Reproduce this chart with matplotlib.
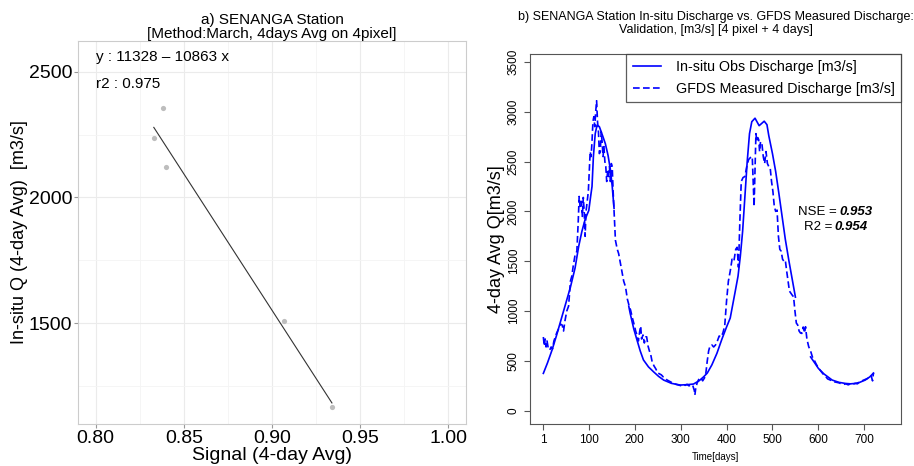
import numpy as np
import matplotlib

matplotlib.use("Agg")
import matplotlib.pyplot as plt
from matplotlib.ticker import MultipleLocator

plt.rcParams["font.family"] = ["Liberation Sans", "DejaVu Sans"]

# ---------- panel a) regression data ----------
signal = [0.838, 0.833, 0.840, 0.907, 0.934]
q_insitu = [2355, 2237, 2121, 1508, 1165]
intercept, slope = 11328, -10863
fit_label = "y : 11328 \u2013 10863 x"
r2_label = "r2 : 0.975"
sig_ticks = [0.80, 0.85, 0.90, 0.95, 1.00]
q_ticks = [1500, 2000, 2500]

# ---------- panel b) time series ----------
obs_days = [1, 10, 20, 30, 40, 50, 60, 70, 78, 85, 92, 100, 104, 107, 110, 114, 118, 123,
            130, 136, 142, 147, 151, 155, 156,
            187, 190, 198, 205, 212, 219, 230, 241, 252, 263, 280, 299, 315, 328, 340, 350,
            358, 368, 379, 390, 400, 408, 419, 425, 430, 435, 440, 445, 450, 455, 462, 471,
            482, 488, 492, 500, 507, 514, 521, 528, 536, 543, 550, 551,
            583, 592, 600, 612, 630, 645, 659, 670, 680, 690, 702, 712, 720]
obs_q = [375, 480, 610, 760, 920, 1080, 1240, 1430, 1650, 1800, 1920, 2010, 2150, 2250, 2550,
         2780, 2866, 2850, 2760, 2680, 2560, 2420, 2250, 2030, np.nan,
         1050, 980, 820, 709, 600, 510, 440, 391, 345, 308, 275, 258, 262, 268, 300, 340,
         378, 460, 576, 720, 840, 930, 1200, 1350, 1550, 1800, 2150, 2500, 2780, 2900, 2935,
         2860, 2905, 2870, 2760, 2580, 2400, 2180, 1950, 1720, 1500, 1320, 1140, np.nan,
         540, 480, 425, 370, 308, 285, 274, 270, 274, 285, 308, 340, 378]

gfds_days = [1, 3, 5, 7, 9, 12, 15, 18, 21, 24, 27, 30, 34, 38, 42, 45, 48, 52, 56, 60, 63,
             66, 70, 74, 77, 79, 81, 84, 86, 88, 90, 92, 94, 96, 99, 101, 103, 105, 107, 109,
             111, 113, 115, 117, 119, 121, 123, 125, 127, 129, 131, 133, 135, 137, 139, 141,
             143, 145, 147, 149, 151, 153, 155, 158, 162, 165, 168, 172, 176, 180, 184, 188,
             191, 195, 199, 202, 205, 208, 211, 213, 215, 218, 221, 224, 226, 229, 232, 235,
             238, 242, 246, 250, 254, 258, 262, 266, 270, 274, 278, 282, 286, 290, 294, 298,
             302, 306, 310, 314, 318, 322, 326, 330, 331, 333, 336, 340, 344, 348, 352, 355,
             358, 361, 364, 368, 372, 376, 380, 384, 388, 392, 396, 400, 404, 408, 412, 416,
             420, 423, 426, 429, 432, 436, 440, 444, 448, 452, 456, 458, 460, 462, 464, 466,
             468, 470, 472, 474, 477, 480, 483, 486, 489, 492, 495, 498, 501, 504, 507, 510,
             513, 516, 519, 522, 525, 528, 531, 534, 537, 540, 543, 546, 549, 552, 555, 558,
             561, 564, 567, 570, 572, 575, 579, 583, 587, 591, 595, 600, 605, 610, 615, 620,
             625, 630, 635, 640, 645, 650, 655, 660, 665, 670, 675, 680, 685, 690, 695, 700,
             705, 710, 715, 718, 720]
gfds_q = [740, 650, 720, 640, 700, 620, 610, 640, 620, 700, 740, 780, 820, 870, 860, 800,
          900, 1000, 1050, 1300, 1350, 1450, 1560, 1600, 1900, 2150, 2050, 2100, 1950, 2140,
          2000, 1750, 2000, 2080, 2200, 2400, 2600, 2550, 2700, 2900, 2950, 2850, 3000, 3110,
          2900, 2800, 2580, 2600, 2800, 2700, 2550, 2650, 2500, 2450, 2300, 2400, 2350, 2450,
          2300, 2480, 2450, 2200, 2000, 1710, 1620, 1577, 1500, 1400, 1300, 1243, 1120, 1050,
          1010, 930, 860, 800, 760, 700, 800, 850, 720, 760, 680, 740, 742, 650, 600, 560,
          490, 450, 420, 380, 370, 360, 340, 330, 310, 300, 290, 280, 270, 265, 260, 255,
          250, 260, 255, 265, 250, 255, 260, 200, 157, 230, 280, 320, 330, 300, 330, 380,
          500, 600, 650, 660, 640, 660, 700, 750, 740, 780, 850, 1100, 1300, 1400, 1520, 1500,
          1620, 1640, 1440, 1900, 2300, 2340, 2350, 2450, 2520, 2540, 2550, 2300, 2050, 2400,
          2780, 2700, 2740, 2720, 2600, 2700, 2680, 2550, 2480, 2600, 2480, 2450, 2440, 2300,
          2200, 2050, 2000, 2013, 1750, 1620, 1600, 1520, 1500, 1510, 1400, 1300, 1200, 1180,
          1160, 1143, 1000, 880, 860, 800, 780, 776, 840, 780, 843, 720, 642, 600, 540, 508,
          470, 430, 400, 370, 350, 320, 310, 300, 290, 285, 280, 270, 265, 270, 260, 270,
          265, 275, 270, 290, 300, 310, 320, 330, 350, 300, 380]

x_ticks = [1, 100, 200, 300, 400, 500, 600, 700]
y_ticks = [0, 500, 1000, 1500, 2000, 2500, 3000, 3500]

fig = plt.figure(figsize=(9.14, 4.66), dpi=100, facecolor="white")

# ---------- a) scatter + fit (ggplot look) ----------
ax1 = fig.add_axes([0.0853, 0.0901, 0.4245, 0.8219])
ax1.set_xlim(0.790, 1.010)
ax1.set_ylim(1098, 2623)
ax1.set_xticks(sig_ticks)
ax1.set_xticklabels([f"{v:.2f}" for v in sig_ticks])
ax1.set_yticks(q_ticks)
ax1.xaxis.set_minor_locator(MultipleLocator(0.025))
ax1.yaxis.set_minor_locator(MultipleLocator(250))
ax1.grid(which="major", color="#ebebeb", lw=0.8)
ax1.grid(which="minor", color="#f4f4f4", lw=0.6)
ax1.set_axisbelow(True)
for sp in ax1.spines.values():
    sp.set_color("#cccccc")
ax1.tick_params(which="major", length=3, color="#999999", labelsize=14, pad=1)
ax1.tick_params(which="minor", length=0)

xf = np.array([min(signal), max(signal)])
ax1.plot(xf, intercept + slope * xf, color="#333333", lw=0.8, zorder=3)
ax1.scatter(signal, q_insitu, s=14, color="#bdbdbd", zorder=4, linewidths=0)
ax1.text(0.80, 2560, fit_label, fontsize=11, va="center", ha="left")
ax1.text(0.80, 2452, r2_label, fontsize=11, va="center", ha="left")
ax1.set_xlabel("Signal (4-day Avg)", fontsize=14, labelpad=0)
ax1.set_ylabel("In-situ Q (4-day Avg)  [m3/s]", fontsize=13, labelpad=1)
ax1.set_title("a) SENANGA Station\n[Method:March, 4days Avg on 4pixel]", fontsize=11,
              linespacing=1.0, pad=2)

# ---------- b) time series (base-R look) ----------
ax2 = fig.add_axes([0.5799, 0.0901, 0.4059, 0.794])
ax2.plot(obs_days, obs_q, color="#0000ff", lw=1.2, label="In-situ Obs Discharge [m3/s]")
ax2.plot(gfds_days, gfds_q, color="#0000ff", lw=1.2, ls=(0, (4, 2)),
         label="GFDS Measured Discharge [m3/s]")
ax2.set_xlim(-28, 780)
ax2.set_ylim(-133, 3579)
ax2.set_xticks(x_ticks)
ax2.set_yticks(y_ticks)
ax2.set_yticklabels([str(v) for v in y_ticks], rotation=90, va="center")
ax2.tick_params(labelsize=8.5, length=4, color="#555555", width=0.8)
for sp in ax2.spines.values():
    sp.set_color("#555555")
ax2.set_xlabel("Time[days]", fontsize=7, labelpad=4)
ax2.set_ylabel("4-day Avg Q[m3/s]", fontsize=13, labelpad=2)
ax2.set_title("b) SENANGA Station In-situ Discharge vs. GFDS Measured Discharge:\n"
              "Validation, [m3/s] [4 pixel + 4 days]", fontsize=9, linespacing=1.1, pad=15)
leg = ax2.legend(loc="upper right", fontsize=10.3, frameon=True, fancybox=False,
                 borderaxespad=0, handlelength=2.0, borderpad=0.45, labelspacing=0.5,
                 handletextpad=1.0)
leg.get_frame().set_edgecolor("#333333")
leg.get_frame().set_linewidth(0.9)

ax2.text(641, 1996, "NSE =", fontsize=9.5, ha="right", va="center")
ax2.text(646, 1996, "0.953", fontsize=9.5, ha="left", va="center", fontweight="bold",
         style="italic")
ax2.text(631, 1846, "R2 =", fontsize=9.5, ha="right", va="center")
ax2.text(636, 1846, "0.954", fontsize=9.5, ha="left", va="center", fontweight="bold",
         style="italic")

fig.savefig("out.png", dpi=100)
